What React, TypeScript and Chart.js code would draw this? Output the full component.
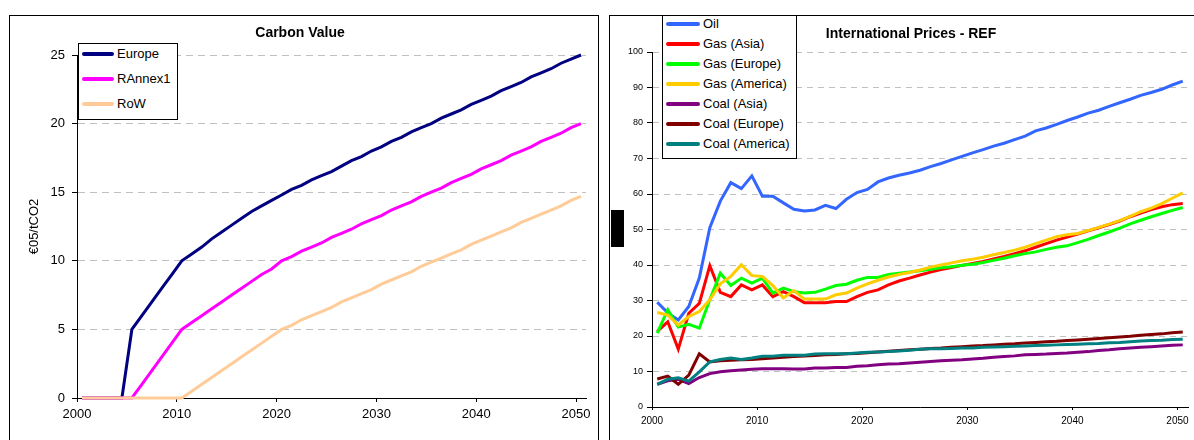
import React, { useEffect, useRef } from "react";
import { Chart, registerables } from "chart.js";

Chart.register(...registerables);

const FONT = "'Liberation Sans', Arial, Helvetica, sans-serif";

// ---------- categories ----------
const years = [
  2000, 2001, 2002, 2003, 2004, 2005, 2006, 2007, 2008, 2009,
  2010, 2011, 2012, 2013, 2014, 2015, 2016, 2017, 2018, 2019,
  2020, 2021, 2022, 2023, 2024, 2025, 2026, 2027, 2028, 2029,
  2030, 2031, 2032, 2033, 2034, 2035, 2036, 2037, 2038, 2039,
  2040, 2041, 2042, 2043, 2044, 2045, 2046, 2047, 2048, 2049, 2050,
];
const xTickYears = [2000, 2010, 2020, 2030, 2040, 2050];
const xAxisEnd = 2051;

// ---------- Carbon Value ----------
const carbonTitle = "Carbon Value";
const carbonYTitle = "€05/tCO2";
const carbonYTicks = [0, 5, 10, 15, 20, 25];
const carbonNames = ["Europe", "RAnnex1", "RoW"];
const carbonColors = ["#000080", "#FF00FF", "#FFCC99"];

const carbonEurope = [
  0, 0, 0, 0, 0, 5, 6, 7, 8, 9,
  10, 10.5, 11, 11.6, 12.1, 12.6, 13.1, 13.6, 14.0, 14.4,
  14.8, 15.2, 15.5, 15.9, 16.2, 16.5, 16.9, 17.3, 17.6, 18.0,
  18.3, 18.7, 19.0, 19.4, 19.7, 20.0, 20.4, 20.7, 21.0, 21.4,
  21.7, 22.0, 22.4, 22.7, 23.0, 23.4, 23.7, 24.0, 24.4, 24.7, 25.0,
];
const carbonRAnnex1 = [
  0, 0, 0, 0, 0, 0, 1, 2, 3, 4,
  5, 5.5, 6, 6.5, 7, 7.5, 8, 8.5, 9, 9.4,
  10, 10.3, 10.7, 11.0, 11.3, 11.7, 12.0, 12.3, 12.7, 13.0,
  13.3, 13.7, 14.0, 14.3, 14.7, 15.0, 15.3, 15.7, 16.0, 16.3,
  16.7, 17.0, 17.3, 17.7, 18.0, 18.3, 18.7, 19.0, 19.3, 19.7, 20.0,
];
const carbonRoW = [
  0, 0, 0, 0, 0, 0, 0, 0, 0, 0,
  0, 0.5, 1.0, 1.5, 2.0, 2.5, 3.0, 3.5, 4.0, 4.5,
  5.0, 5.3, 5.7, 6.0, 6.3, 6.6, 7.0, 7.3, 7.6, 7.9,
  8.3, 8.6, 8.9, 9.2, 9.6, 9.9, 10.2, 10.5, 10.8, 11.2,
  11.5, 11.8, 12.1, 12.4, 12.8, 13.1, 13.4, 13.7, 14.0, 14.4, 14.7,
];

// ---------- International Prices - REF ----------
const priceTitle = "International Prices - REF";
const priceYTicks = [0, 10, 20, 30, 40, 50, 60, 70, 80, 90, 100];
const priceNames = [
  "Oil", "Gas (Asia)", "Gas (Europe)", "Gas (America)",
  "Coal (Asia)", "Coal (Europe)", "Coal (America)",
];
const priceColors = ["#3366FF", "#FF0000", "#00FF00", "#FFCC00", "#800080", "#800000", "#008080"];

const oil = [
  29.5, 26.5, 24.5, 28.3, 36.3, 50.5, 58.0, 63.2, 61.5, 65.1,
  59.4, 59.4, 57.5, 55.7, 55.2, 55.5, 56.8, 55.9, 58.5, 60.4,
  61.3, 63.4, 64.5, 65.3, 65.9, 66.7, 67.7, 68.6, 69.6, 70.6,
  71.6, 72.5, 73.5, 74.3, 75.3, 76.3, 77.8, 78.6, 79.6, 80.7,
  81.7, 82.8, 83.6, 84.7, 85.7, 86.7, 87.8, 88.6, 89.5, 90.7, 91.8,
];
const gasAsia = [
  21.3, 24.0, 16.3, 26.4, 29.2, 39.8, 32.3, 31.1, 34.4, 33.0,
  34.4, 31.1, 32.5, 31.1, 29.4, 29.4, 29.4, 29.7, 29.7, 31.1,
  32.3, 33.0, 34.4, 35.5, 36.3, 37.2, 38.0, 38.7, 39.3, 39.9,
  40.4, 41.0, 41.7, 42.4, 43.2, 44.0, 45.0, 46.0, 47.0, 47.9,
  48.7, 49.6, 50.5, 51.4, 52.4, 53.6, 54.6, 55.6, 56.4, 57.0, 57.3,
];
const gasEurope = [
  20.8, 27.4, 22.5, 23.3, 22.2, 30.2, 37.7, 34.2, 36.3, 34.9,
  36.3, 32.1, 33.5, 32.5, 32.1, 32.3, 33.2, 34.2, 34.6, 35.7,
  36.5, 36.5, 37.3, 37.7, 38.0, 38.4, 38.8, 39.2, 39.5, 39.9,
  40.2, 40.7, 41.3, 41.9, 42.6, 43.2, 43.7, 44.4, 45.0, 45.4,
  46.3, 47.2, 48.3, 49.3, 50.4, 51.6, 52.6, 53.6, 54.5, 55.4, 56.2,
];
const gasAmerica = [
  26.6, 25.9, 23.1, 25.5, 26.9, 30.2, 34.7, 36.8, 40.1, 37.0,
  36.8, 34.2, 30.7, 32.8, 30.4, 30.4, 30.4, 31.6, 32.1, 33.5,
  34.7, 35.7, 36.6, 37.3, 37.9, 38.6, 39.4, 40.0, 40.6, 41.2,
  41.6, 42.2, 42.9, 43.5, 44.2, 45.0, 46.0, 47.0, 48.0, 48.5,
  48.9, 49.7, 50.6, 51.5, 52.5, 53.7, 55.0, 56.0, 57.3, 58.8, 60.3,
];
const coalAsia = [
  6.4, 7.4, 7.8, 6.6, 8.3, 9.4, 9.9, 10.2, 10.4, 10.6,
  10.8, 10.8, 10.8, 10.7, 10.7, 11.0, 11.0, 11.1, 11.1, 11.5,
  11.6, 11.9, 12.1, 12.2, 12.4, 12.6, 12.8, 13.0, 13.2, 13.3,
  13.5, 13.7, 14.0, 14.2, 14.4, 14.7, 14.8, 14.9, 15.1, 15.2,
  15.4, 15.6, 15.9, 16.1, 16.4, 16.6, 16.8, 17.0, 17.2, 17.4, 17.5,
];
const coalEurope = [
  7.9, 8.7, 6.4, 9.0, 15.0, 12.7, 13.0, 13.2, 13.3, 13.4,
  13.6, 13.8, 14.0, 14.2, 14.4, 14.5, 14.7, 14.8, 15.0, 15.1,
  15.3, 15.5, 15.7, 15.9, 16.1, 16.3, 16.5, 16.6, 16.8, 17.0,
  17.2, 17.3, 17.5, 17.7, 17.8, 18.0, 18.2, 18.4, 18.5, 18.7,
  18.9, 19.1, 19.3, 19.5, 19.7, 19.9, 20.2, 20.4, 20.6, 20.9, 21.1,
];
const coalAmerica = [
  6.4, 7.8, 8.2, 7.3, 9.9, 12.7, 13.4, 13.8, 13.4, 13.8,
  14.3, 14.3, 14.6, 14.6, 14.6, 14.9, 15.0, 15.0, 15.0, 15.2,
  15.4, 15.5, 15.6, 15.8, 16.0, 16.3, 16.4, 16.4, 16.5, 16.6,
  16.6, 16.8, 16.9, 17.0, 17.1, 17.2, 17.3, 17.4, 17.5, 17.6,
  17.7, 17.8, 17.9, 18.1, 18.2, 18.4, 18.6, 18.7, 18.8, 19.0, 19.1,
];

const carbonSeries = [carbonEurope, carbonRAnnex1, carbonRoW];
const priceSeries = [oil, gasAsia, gasEurope, gasAmerica, coalAsia, coalEurope, coalAmerica];

// Excel-style category axis: each year occupies [year, year+1) and its point sits mid-interval
const toPoints = (values: number[]) => values.map((v, i) => ({ x: years[i] + 0.5, y: v }));

function makeDatasets(series: number[][], names: string[], colors: string[], width: number) {
  return series.map((s, i) => ({
    label: names[i],
    data: toPoints(s),
    borderColor: colors[i],
    backgroundColor: colors[i],
    borderWidth: width,
    pointRadius: 0,
    tension: 0,
    clip: 4,
    order: series.length - i, // later series drawn on top, as in Excel
  }));
}

type AxisStyle = {
  yTicks: number[];
  yWidth: number;
  xHeight: number;
  yFont: number;
  xFont: number;
  yTickLen: number;
  yPad: number;
  xTickLen: number;
  xPad: number;
  dash: number[];
  padding: { left: number; right: number; top: number; bottom: number };
  yTitle?: string;
  yTitleOffset?: number;
};

function buildConfig(datasets: any[], a: AxisStyle): any {
  return {
    type: "line",
    data: { datasets },
    options: {
      responsive: false,
      animation: false,
      devicePixelRatio: 1,
      layout: { padding: a.padding },
      plugins: {
        legend: { display: false },
        title: { display: false },
        tooltip: { enabled: false },
      },
      scales: {
        x: {
          type: "linear",
          min: years[0],
          max: xAxisEnd,
          afterBuildTicks: (s: any) => {
            s.ticks = xTickYears.map((v) => ({ value: v }));
          },
          afterFit: (s: any) => {
            s.height = a.xHeight;
          },
          grid: {
            display: true,
            drawOnChartArea: false,
            drawTicks: true,
            tickLength: a.xTickLen,
            tickColor: "#000",
            tickWidth: 1,
            tickBorderDash: [],
          },
          border: { display: true, color: "#000", width: 1 },
          ticks: {
            font: { size: a.xFont, family: FONT },
            color: "#000",
            padding: a.xPad,
            maxRotation: 0,
            autoSkip: false,
            callback: (v: any) => String(v),
          },
        },
        y: {
          type: "linear",
          min: a.yTicks[0],
          max: a.yTicks[a.yTicks.length - 1],
          afterBuildTicks: (s: any) => {
            s.ticks = a.yTicks.map((v) => ({ value: v }));
          },
          afterFit: (s: any) => {
            s.width = a.yWidth;
          },
          grid: {
            display: true,
            color: "#c0c0c0",
            lineWidth: 1,
            drawTicks: true,
            tickLength: a.yTickLen,
            tickColor: "#000",
            tickWidth: 1,
            tickBorderDash: [],
          },
          border: { display: true, color: "#000", width: 1, dash: a.dash },
          ticks: {
            font: { size: a.yFont, family: FONT },
            color: "#000",
            padding: a.yPad,
            autoSkip: false,
            callback: (v: any) => String(v),
          },
          title: a.yTitle
            ? {
                display: true,
                text: a.yTitle,
                color: "#000",
                font: { size: 13, family: FONT },
                padding: { top: a.yTitleOffset ?? 4, bottom: 0 },
              }
            : { display: false },
        },
      },
    },
  };
}

function ChartCanvas({ width, height, build }: { width: number; height: number; build: () => any }) {
  const ref = useRef<HTMLCanvasElement>(null);
  useEffect(() => {
    const chart = new Chart(ref.current as HTMLCanvasElement, build());
    return () => chart.destroy();
  }, []);
  return (
    <canvas
      ref={ref}
      width={width}
      height={height}
      style={{ position: "absolute", left: 0, top: 0, width, height, display: "block" }}
    />
  );
}

function Legend({
  names,
  colors,
  box,
  rowTop,
  rowStep,
  swatchLeft,
  swatchWidth,
  textLeft,
}: {
  names: string[];
  colors: string[];
  box: { left: number; top: number; width: number; height: number };
  rowTop: number;
  rowStep: number;
  swatchLeft: number;
  swatchWidth: number;
  textLeft: number;
}) {
  return (
    <div
      style={{
        position: "absolute",
        left: box.left,
        top: box.top,
        width: box.width,
        height: box.height,
        boxSizing: "border-box",
        border: "1px solid #000",
        background: "#fff",
        zIndex: 2,
      }}
    >
      {names.map((n, i) => {
        const cy = rowTop + i * rowStep;
        return (
          <React.Fragment key={n}>
            <div
              style={{
                position: "absolute",
                left: swatchLeft,
                top: cy - 2,
                width: swatchWidth,
                height: 4,
                borderRadius: 2,
                background: colors[i],
              }}
            />
            <div
              style={{
                position: "absolute",
                left: textLeft,
                top: cy - 9,
                height: 18,
                lineHeight: "18px",
                fontSize: 13,
                fontFamily: FONT,
                color: "#000",
                whiteSpace: "nowrap",
              }}
            >
              {n}
            </div>
          </React.Fragment>
        );
      })}
    </div>
  );
}

function Title({ text, cx, cy }: { text: string; cx: number; cy: number }) {
  return (
    <div
      style={{
        position: "absolute",
        left: cx,
        top: cy - 9,
        transform: "translateX(-50%)",
        whiteSpace: "nowrap",
        fontFamily: FONT,
        fontWeight: "bold",
        fontSize: 14,
        lineHeight: "18px",
        color: "#000",
        zIndex: 1,
      }}
    >
      {text}
    </div>
  );
}

export default function App() {
  const carbonAxis: AxisStyle = {
    yTicks: carbonYTicks,
    yWidth: 67,
    xHeight: 28,
    yFont: 13,
    xFont: 13,
    yTickLen: 5,
    yPad: 7,
    xTickLen: 4,
    xPad: 5,
    dash: [7, 5],
    padding: { left: 0, right: 12, top: 39, bottom: 14 },
    yTitle: carbonYTitle,
    yTitleOffset: 17,
  };
  const priceAxis: AxisStyle = {
    yTicks: priceYTicks,
    yWidth: 42,
    xHeight: 22,
    yFont: 9,
    xFont: 10,
    yTickLen: 5,
    yPad: 4,
    xTickLen: 3,
    xPad: 5,
    dash: [6, 5],
    padding: { left: 0, right: 6, top: 36, bottom: 11 },
  };

  return (
    <div
      style={{
        position: "fixed",
        left: 0,
        top: 0,
        width: 1194,
        height: 440,
        overflow: "hidden",
        background: "#fff",
      }}
    >
      {/* Left panel */}
      <div
        style={{
          position: "absolute",
          left: 9,
          top: 15,
          width: 590,
          height: 440,
          boxSizing: "border-box",
          border: "1px solid #000",
        }}
      >
        <ChartCanvas
          width={588}
          height={424}
          build={() => buildConfig(makeDatasets(carbonSeries, carbonNames, carbonColors, 3), carbonAxis)}
        />
        <Title text={carbonTitle} cx={290} cy={16} />
        <Legend
          names={carbonNames}
          colors={carbonColors}
          box={{ left: 68, top: 27, width: 100, height: 77 }}
          rowTop={10}
          rowStep={25}
          swatchLeft={3}
          swatchWidth={32}
          textLeft={38}
        />
      </div>

      {/* Right panel */}
      <div
        style={{
          position: "absolute",
          left: 609,
          top: 15,
          width: 600,
          height: 440,
          boxSizing: "border-box",
          border: "1px solid #000",
        }}
      >
        <ChartCanvas
          width={584}
          height={424}
          build={() => buildConfig(makeDatasets(priceSeries, priceNames, priceColors, 3), priceAxis)}
        />
        <Title text={priceTitle} cx={301} cy={17} />
        <div
          style={{
            position: "absolute",
            left: 1,
            top: 194,
            width: 13,
            height: 37,
            background: "#000",
            zIndex: 1,
          }}
        />
        <Legend
          names={priceNames}
          colors={priceColors}
          box={{ left: 52, top: -1, width: 135, height: 144 }}
          rowTop={8}
          rowStep={20}
          swatchLeft={3}
          swatchWidth={34}
          textLeft={40}
        />
      </div>
    </div>
  );
}
